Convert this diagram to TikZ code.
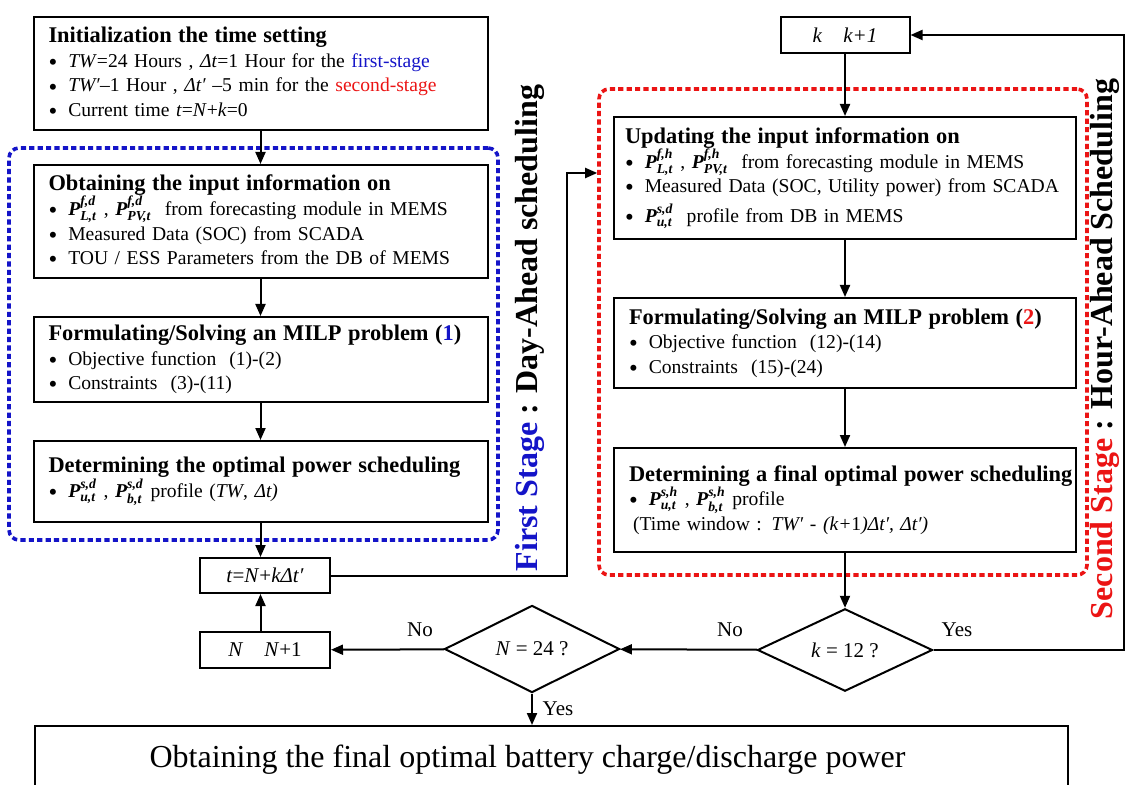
\documentclass[tikz,border=0pt]{standalone}
\usepackage{amsmath}
\usepackage{fontspec}
\setmainfont{Liberation Serif}
\usetikzlibrary{arrows.meta,positioning,shapes.geometric}

\definecolor{stageblue}{RGB}{20,20,200}
\definecolor{stagered}{RGB}{235,20,20}

% power profile symbol, bold italic with stacked indices
\newcommand{\pw}[2]{$\textbf{\textit{P}}^{\textbf{\textit{#1}}}_{\textbf{\textit{#2}}}$}
\newcommand{\bul}{\raisebox{-0.35ex}{\fontsize{12.5}{12}\selectfont\textbullet}\hspace{5.5pt}}
\newcommand{\itm}{\\\bul}
\newcommand{\boxtitle}[1]{\mbox{\fontsize{11.2}{13}\selectfont\bfseries #1}}

\tikzset{
  stepbox/.style={draw, line width=1pt, inner xsep=7.5pt, inner ysep=3pt, align=left,
    font=\fontsize{9.8}{12.3}\selectfont},
  smallbox/.style={draw, line width=1pt, minimum width=65pt, minimum height=17.5pt,
    font=\fontsize{10.5}{12}\selectfont},
  test/.style={draw, line width=1pt, diamond, minimum width=87.5pt, minimum height=38.5pt,
    inner sep=0pt, font=\fontsize{10.5}{12}\selectfont},
  flow/.style={line width=1pt, -{Triangle[length=6pt,width=5pt]}},
  stage/.style={line width=1.8pt, dash pattern=on 2.6pt off 1.6pt, rounded corners=5pt},
  tag/.style={font=\fontsize{10.5}{12}\selectfont},
  side/.style={rotate=90, font=\fontsize{16}{18}\selectfont\bfseries}
}

\begin{document}
\begin{tikzpicture}[x=0.5pt, y=-0.5pt]
\useasboundingbox (0,0) rectangle (1127,785);

% dashed stage frames
\node [stage, draw=stageblue, minimum width=244.5pt, minimum height=196pt] (dayahead) at (253.5,344) {};
\node [stage, draw=stagered, minimum width=244pt, minimum height=243pt] (hourahead) at (843,332) {};

% first stage (left column)
\node [stepbox, text width=212pt, minimum height=56.5pt] (init) at (260.5,73.5) {%
  \boxtitle{Initialization the time setting}
  \itm \textit{TW}=24 Hours , \textit{Δt}=1 Hour for the \textcolor{stageblue}{first-stage}
  \itm \textit{TW′}–1 Hour , \textit{Δt′} –5 min for the \textcolor{stagered}{second-stage}
  \itm Current time \textit{t}=\textit{N}+\textit{k}=0};
\node [stepbox, text width=212pt, minimum height=56.5pt] (obtain) at (260.5,221.5) {%
  \boxtitle{Obtaining the input information on}
  \itm \pw{f,d}{L,t} , \pw{f,d}{PV,t}\ \ from forecasting module in MEMS
  \itm Measured Data (SOC) from SCADA
  \itm TOU / ESS Parameters from the DB of MEMS};
\node [stepbox, text width=212pt, minimum height=42.5pt] (milp1) at (260.5,359.5) {%
  \boxtitle{Formulating/Solving an MILP problem (\textcolor{stageblue}{1})}
  \itm Objective function\ \ (1)-(2)
  \itm Constraints\ \ (3)-(11)};
\node [stepbox, text width=212pt, minimum height=40.5pt] (sched1) at (260.5,481.5) {%
  \boxtitle{Determining the optimal power scheduling}
  \itm \pw{s,d}{u,t} , \pw{s,d}{b,t} profile (\textit{TW}, \textit{Δt)}};

\node [smallbox] (tnow) at (265,575.5) {\textit{t}=\textit{N}+\textit{kΔt′}};
\node [smallbox, minimum height=18pt] (nstep) at (265,650) {\textit{N}\quad\textit{N}+1};
\node [test] (nday) at (532,649) {\textit{N} = 24 ?};

% second stage (right column)
\node [smallbox, minimum width=64.5pt, minimum height=18pt] (kstep) at (845,35) {\textit{k}\quad\textit{k+1}};
\node [stepbox, inner xsep=5.5pt, text width=220pt, minimum height=61pt] (update) at (845,178) {%
  \boxtitle{Updating the input information on}
  \itm \pw{f,h}{L,t} , \pw{f,h}{PV,t}\ \ from forecasting module in MEMS
  \itm Measured Data (SOC, Utility power) from SCADA\\[2.5pt]
  \bul \pw{s,d}{u,t}\ \ profile from DB in MEMS};
\node [stepbox, text width=216pt, minimum height=45pt] (milp2) at (845,343) {%
  \boxtitle{Formulating/Solving an MILP problem (\textcolor{stagered}{2})}
  \itm Objective function\ \ (12)-(14)
  \itm Constraints\ \ (15)-(24)};
\node [stepbox, text width=216pt, minimum height=52pt] (sched2) at (845,500) {%
  \boxtitle{Determining a final optimal power scheduling}
  \itm \pw{s,h}{u,t} , \pw{s,h}{b,t} profile\\
  \hspace*{2pt}(Time window : \textit{TW′} - \textit{(k+}1\textit{)Δt′, Δt′)}};
\node [test] (kend) at (845,650) {\textit{k} = 12 ?};

% final box, its lower edge runs off the page
\node [stepbox, minimum width=516.5pt, minimum height=34pt, align=center,
  font=\fontsize{16}{18}\selectfont] (result) at (551.5,760) {Obtaining the final optimal battery charge/discharge power\hspace*{24pt}};

% stage captions
\node [side] (firstcap) at (530,328) {\textcolor{stageblue}{First Stage} : Day-Ahead scheduling};
\node [side] (secondcap) at (1105,349) {\textcolor{stagered}{Second Stage} : Hour-Ahead Scheduling};

% connectors
\draw [flow] (init) -- (obtain);
\draw [flow] (obtain) -- (milp1);
\draw [flow] (milp1) -- (sched1);
\draw [flow] (sched1.south) -- (sched1.south |- tnow.north);
\draw [flow] (nstep.north -| sched1.south) -- (sched1.south |- tnow.south);
\draw [flow] (nday) -- (nstep);
\draw [flow] (nday) -- (result.north -| nday.south);
\draw [flow] (kstep) -- (update);
\draw [flow] (update) -- (milp2);
\draw [flow] (milp2) -- (sched2);
\draw [flow] (sched2) -- (kend);
\draw [flow] (kend) -- (nday);
\coordinate (jump) at (567,173);
\draw [flow] (tnow.east) -| (jump) -- (jump -| hourahead.west);
\coordinate (loopback) at (1124,650);
\draw [flow] (kend.east) -- (loopback) |- (kstep.east);

% branch labels
\node [tag] (nolabel1) at (420,630) {No};
\node [tag] (nolabel2) at (730,630) {No};
\node [tag] (yeslabel1) at (957,630) {Yes};
\node [tag] (yeslabel2) at (558,709) {Yes};
\end{tikzpicture}
\end{document}
